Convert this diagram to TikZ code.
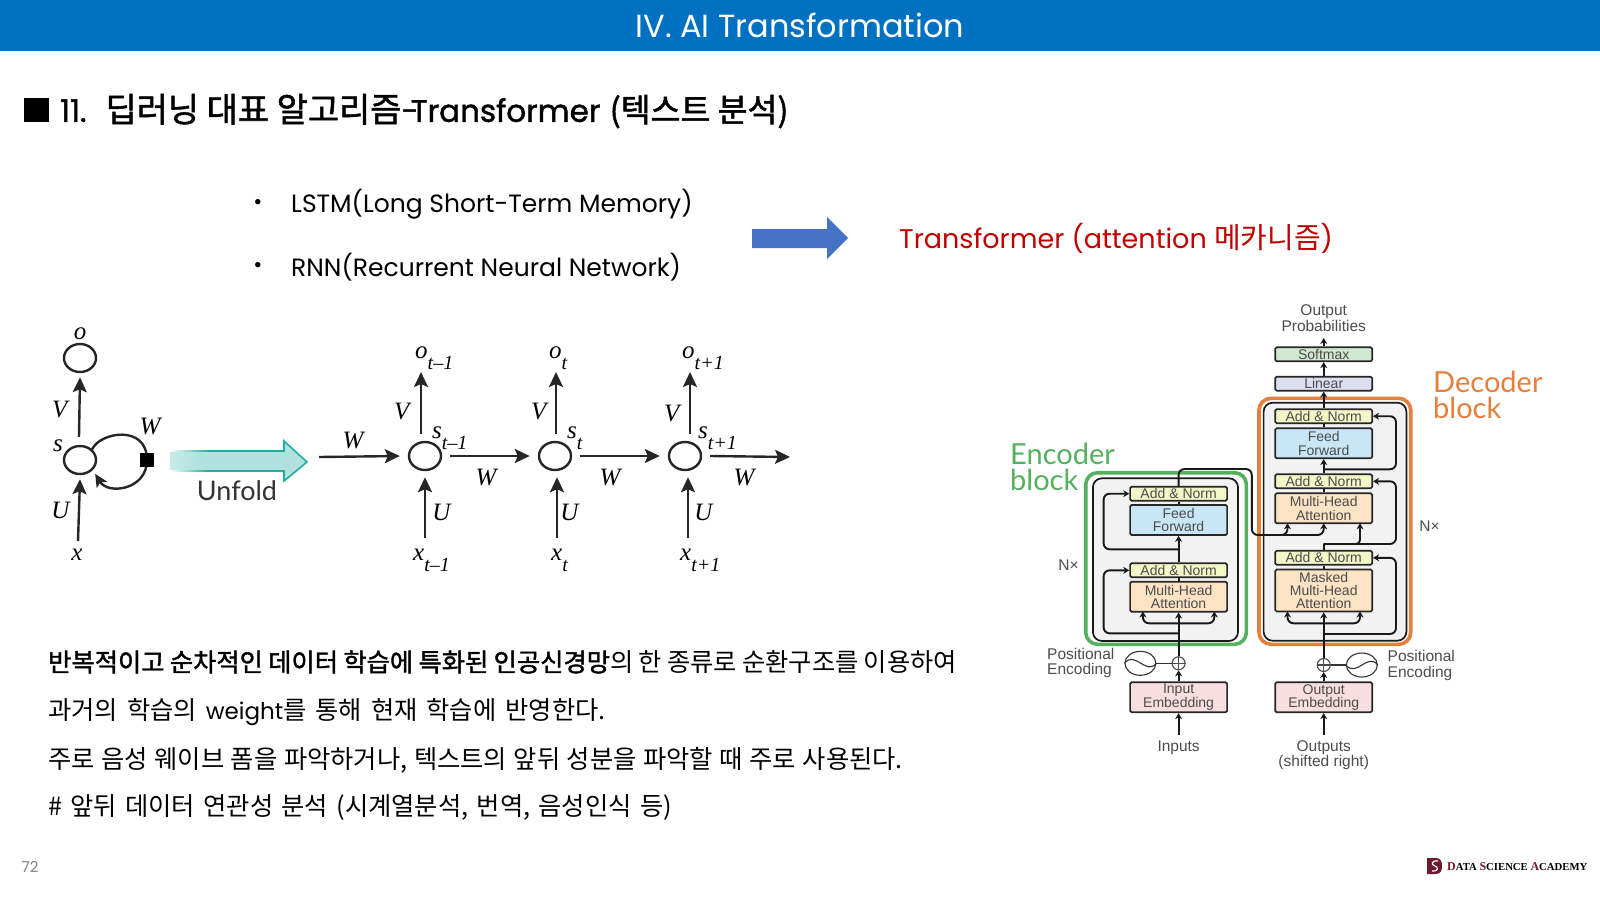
\documentclass[tikz,border=0pt]{standalone}
\usepackage{fontspec}
\usepackage{tikz}
\usetikzlibrary{arrows.meta, shapes.geometric}
\setmainfont{Poppins}
\newfontfamily\kr{Noto Sans CJK KR}
\newfontfamily\krb[FakeBold=1.6]{Noto Sans CJK KR}
\newfontfamily\popb[FakeBold=1.4]{Poppins}
\newfontfamily\helv{Liberation Sans}
\newfontfamily\tim{Liberation Serif}
\newfontfamily\lato{Lato}
\definecolor{headblue}{HTML}{0070C0}
\definecolor{arrowblue}{HTML}{4472C4}
\definecolor{redtext}{HTML}{C00000}
\definecolor{tealfill}{HTML}{B2E2DE}
\definecolor{tealline}{HTML}{1FAEA2}
\definecolor{orangeblock}{HTML}{E57F3C}
\definecolor{greenblock}{HTML}{55B060}
\definecolor{normfill}{HTML}{F3F7C8}
\definecolor{feedfill}{HTML}{C9E6F6}
\definecolor{attnfill}{HTML}{FBE3C4}
\definecolor{embedfill}{HTML}{F8DEDF}
\definecolor{softfill}{HTML}{D0E8D0}
\definecolor{linearfill}{HTML}{DCDFEF}
\definecolor{logored}{HTML}{6E1A2E}
\newcommand{\px}[1]{\fontsize{#1}{#1}\selectfont}
\newcommand{\rnnsub}[2]{\textit{#1}\raisebox{-11pt}{\px{20}\textit{#2}}}
\newcommand{\bodyline}[2]{\setlength{\spaceskip}{#1pt}#2}
\pgfdeclarehorizontalshading{unfoldfade}{100bp}{color(0bp)=(white); color(35bp)=(tealfill); color(100bp)=(tealfill)}

\begin{document}
\begin{tikzpicture}[
  x=1pt, y=-1pt,
  rnnstate/.style={ellipse, draw=black!85, line width=2.4pt, minimum width=32pt, minimum height=28pt, inner sep=0pt},
  rnnarrow/.style={line width=2.4pt, black!85, -{Stealth[length=15pt,width=14pt,inset=3pt]}},
  rnnlabel/.style={font=\tim\px{25}, inner sep=0pt},
  block/.style={draw=black!85, line width=1.7pt, rounded corners=1.5pt, inner sep=0pt, minimum width=97pt,
                align=center, text=black!70, font=\helv\fontsize{14}{13.4}\selectfont},
  flow/.style={line width=1.9pt, black!90, rounded corners=6pt, -{Stealth[length=6pt,width=7pt]}},
  flowplain/.style={line width=1.9pt, black!90, rounded corners=6pt},
  caption/.style={font=\helv\fontsize{15.5}{15.5}\selectfont, text=black!70, align=center, inner sep=0pt},
  stack/.style={draw=black!90, line width=1.7pt, fill=black!5, rounded corners=9pt},
  ring/.style={line width=3.6pt, rounded corners=12pt},
  wave/.style={ellipse, draw=black!80, line width=1.1pt, minimum width=31pt, minimum height=24pt, inner sep=0pt},
  plus/.style={circle, draw=black!70, line width=1.1pt, minimum size=13pt, inner sep=0pt},
  body/.style={font=\kr\px{25.3}, anchor=west, inner sep=0pt},
]

\useasboundingbox (0,0) rectangle (1600,900);

\fill[headblue] (0,0) rectangle (1600,51);
\node[text=white, font=\px{32}, inner sep=0pt] (header) at (800,25) {IV. AI Transformation};

\fill[black] (24,98) rectangle (49,122);
\node[anchor=west, font=\popb\px{31}, inner sep=0pt] (heading) at (60,111) {11.\hspace{8pt} {\krb\px{33.9}딥러닝 대표 알고리즘}-\hspace{-16pt} Transformer\hspace{1pt} {\krb\px{32.5}(텍스트 분석)}};

\node[font=\px{22}, inner sep=0pt] (dot1) at (258,204) {•};
\node[font=\px{22}, inner sep=0pt] (dot2) at (258,267) {•};
\node[anchor=west, font=\px{25}, inner sep=0pt] (lstm) at (291,204) {LSTM(Long Short-Term Memory)};
\node[anchor=west, font=\px{25}, inner sep=0pt] (rnn) at (291,267) {RNN(Recurrent Neural Network)};

\fill[arrowblue] (752,229) -- (827,229) -- (827,217) -- (848,238) -- (827,259) -- (827,248) -- (752,248) -- cycle;
\node[anchor=west, text=redtext, font=\px{27}, inner sep=0pt] (attention) at (899,238) {Transformer (attention {\kr\px{29}메카니즘})};

\node[rnnstate] (o0) at (80,358) {};
\node[rnnstate] (s0) at (80,460) {};
\coordinate (x0tail) at (78,541);
\draw[rnnarrow] ([xshift=-1pt,yshift=8pt]s0.north) -- ([yshift=-4pt]o0.south);
\draw[rnnarrow] (x0tail) -- ([yshift=-4pt]s0.south);
\draw[line width=2.4pt, black!85] (s0.north east) .. controls (100,432) and (147,424) .. (147,460);
\draw[line width=2.4pt, black!85, -{Stealth[length=13pt,width=12pt,inset=3pt]}] (147,460) .. controls (147,490) and (108,495) .. ([xshift=3pt,yshift=-3pt]s0.south east);
\fill[black] (140,453) rectangle (154,467);
\node[rnnlabel] (o0lab) at (80,334) {\textit{o}};
\node[rnnlabel] (v0lab) at (61,409) {\textit{V}};
\node[rnnlabel] (s0lab) at (58,446) {\textit{s}};
\node[rnnlabel] (w0lab) at (151,426) {\textit{W}};
\node[rnnlabel] (u0lab) at (61,510) {\textit{U}};
\node[rnnlabel] (x0lab) at (77,555) {\textit{x}};

\shade[shading=unfoldfade] (170,451) -- (284,451) -- (284,441) -- (307,462) -- (284,481) -- (284,471) -- (170,471) -- cycle;
\draw[tealline, line width=1.6pt, line join=miter] (208,451) -- (284,451) -- (284,441) -- (307,462) -- (284,481) -- (284,471) -- (208,471);
\shade[left color=white, right color=tealline] (170,450.2) rectangle (208,451.8);
\shade[left color=white, right color=tealline] (170,470.2) rectangle (208,471.8);
\node[font=\lato\px{27}, text=black!80, inner sep=0pt] (unfold) at (237,491) {Unfold};

\node[rnnstate] (s1) at (425,456) {};
\node[rnnstate] (s2) at (555,456) {};
\node[rnnstate] (s3) at (685,456) {};
\coordinate (w0tail) at (319,457);
\coordinate (w3tip) at (790,457);
\coordinate (o1tip) at (421,372);
\coordinate (o2tip) at (556,372);
\coordinate (o3tip) at (690,372);
\coordinate (x1tail) at (425,538);
\coordinate (x2tail) at (557,538);
\coordinate (x3tail) at (688,538);
\draw[rnnarrow] (w0tail) -- ([xshift=-8pt]s1.west);
\draw[rnnarrow] ([xshift=8pt]s1.east) -- ([xshift=-8pt]s2.west);
\draw[rnnarrow] ([xshift=8pt]s2.east) -- ([xshift=-8pt]s3.west);
\draw[rnnarrow] ([xshift=8pt]s3.east) -- (w3tip);
\draw[rnnarrow] ([xshift=-4pt,yshift=7pt]s1.north) -- (o1tip);
\draw[rnnarrow] ([xshift=1pt,yshift=7pt]s2.north) -- (o2tip);
\draw[rnnarrow] ([xshift=5pt,yshift=7pt]s3.north) -- (o3tip);
\draw[rnnarrow] (x1tail) -- ([yshift=-6pt]s1.south);
\draw[rnnarrow] (x2tail) -- ([xshift=2pt,yshift=-6pt]s2.south);
\draw[rnnarrow] (x3tail) -- ([xshift=3pt,yshift=-6pt]s3.south);
\node[rnnlabel] (w0top) at (354,440) {\textit{W}};
\node[rnnlabel] (w1lab) at (487,477) {\textit{W}};
\node[rnnlabel] (w2lab) at (611,477) {\textit{W}};
\node[rnnlabel] (w3lab) at (745,477) {\textit{W}};
\node[rnnlabel] (v1lab) at (403,411) {\textit{V}};
\node[rnnlabel] (v2lab) at (540,411) {\textit{V}};
\node[rnnlabel] (v3lab) at (673,413) {\textit{V}};
\node[rnnlabel] (u1lab) at (442,512) {\textit{U}};
\node[rnnlabel] (u2lab) at (570,512) {\textit{U}};
\node[rnnlabel] (u3lab) at (704,512) {\textit{U}};
\node[rnnlabel, anchor=west] (o1lab) at (415,358) {\rnnsub{o}{t–1}};
\node[rnnlabel, anchor=west] (o2lab) at (549,358) {\rnnsub{o}{t}};
\node[rnnlabel, anchor=west] (o3lab) at (682,358) {\rnnsub{o}{t+1}};
\node[rnnlabel, anchor=west] (s1lab) at (432,438) {\rnnsub{s}{t–1}};
\node[rnnlabel, anchor=west] (s2lab) at (567,438) {\rnnsub{s}{t}};
\node[rnnlabel, anchor=west] (s3lab) at (698,438) {\rnnsub{s}{t+1}};
\node[rnnlabel, anchor=west] (x1lab) at (413,560) {\rnnsub{x}{t–1}};
\node[rnnlabel, anchor=west] (x2lab) at (551,560) {\rnnsub{x}{t}};
\node[rnnlabel, anchor=west] (x3lab) at (680,560) {\rnnsub{x}{t+1}};

\node[body] (para1) at (48,662) {\bodyline{5.3}{{\krb 반복적이고 순차적인 데이터 학습에 특화된 인공신경망}의 한 종류로 순환구조를 이용하여}};
\node[body] (para2) at (48,712) {\bodyline{9.0}{과거의 학습의 {\rmfamily\px{23}weight}를 통해 현재 학습에 반영한다.}};
\node[body] (para3) at (48,760) {\bodyline{6.6}{주로 음성 웨이브 폼을 파악하거나, 텍스트의 앞뒤 성분을 파악할 때 주로 사용된다.}};
\node[body] (para4) at (48,808) {\bodyline{8.3}{\# 앞뒤 데이터 연관성 분석 (시계열분석, 번역, 음성인식 등)}};

\node[text=black!50, font=\px{15}, inner sep=0pt] (pagenum) at (30,867) {72};
\fill[logored] (1427,858) -- (1436,858) .. controls (1441,858) and (1442,862) .. (1442,866) .. controls (1442,870) and (1441,874) .. (1436,874) -- (1427,874) -- cycle;
\draw[white, line width=1.2pt] (1438,861) .. controls (1431,860) and (1431,865) .. (1435,866) .. controls (1439,867) and (1438,872) .. (1432,871);
\node[anchor=west, font=\tim\bfseries\px{10.7}, inner sep=0pt] (logotext) at (1447,867) {\textcolor{logored}{\px{12}D}ATA \textcolor{logored}{\px{12}S}CIENCE \textcolor{logored}{\px{12}A}CADEMY};

\draw[ring, draw=greenblock] (1085.7,472.7) rectangle (1246.4,644.3);
\draw[ring, draw=orangeblock] (1259,398.3) rectangle (1410.7,644.3);
\draw[stack] (1092.9,478.3) rectangle (1238,641);
\draw[stack] (1263.6,402.7) rectangle (1406.4,640.7);

\node[font=\lato\px{29}, text=greenblock, align=left, anchor=west, inner sep=0pt] (enclab) at (1010,467) {Encoder\\[-3pt]block};
\node[font=\lato\px{29}, text=orangeblock, align=left, anchor=west, inner sep=0pt] (declab) at (1433,395) {Decoder\\[-3pt]block};

\node[block, fill=softfill, minimum height=14pt] (softmax) at (1323.7,354.3) {Softmax};
\node[block, fill=linearfill, minimum height=14pt] (linear) at (1323.7,383.7) {Linear};
\node[block, fill=normfill, minimum height=14pt] (dnorm3) at (1323.7,416.2) {Add \& Norm};
\node[block, fill=feedfill, minimum height=30pt] (dfeed) at (1323.7,443.3) {Feed\\Forward};
\node[block, fill=normfill, minimum height=14pt] (dnorm2) at (1323.7,481.3) {Add \& Norm};
\node[block, fill=attnfill, minimum height=30pt] (dattn) at (1323.7,508.3) {Multi-Head\\Attention};
\node[block, fill=normfill, minimum height=14pt] (dnorm1) at (1323.7,557.8) {Add \& Norm};
\node[block, fill=attnfill, minimum height=42pt] (dmask) at (1323.7,590.5) {Masked\\Multi-Head\\Attention};
\node[block, fill=embedfill, minimum height=30pt] (dembed) at (1323.7,697.3) {Output\\Embedding};

\node[block, fill=normfill, minimum height=14pt] (enorm2) at (1178.6,493.7) {Add \& Norm};
\node[block, fill=feedfill, minimum height=30pt] (efeed) at (1178.6,520) {Feed\\Forward};
\node[block, fill=normfill, minimum height=14pt] (enorm1) at (1178.6,570.3) {Add \& Norm};
\node[block, fill=attnfill, minimum height=30pt] (eattn) at (1178.6,596.7) {Multi-Head\\Attention};
\node[block, fill=embedfill, minimum height=30pt] (eembed) at (1178.6,697.3) {Input\\Embedding};

\node[plus] (eplus) at (1178.6,663.3) {};
\node[plus] (dplus) at (1323.7,665) {};
\node[wave] (ewave) at (1140.4,663.3) {};
\node[wave] (dwave) at (1361.8,665) {};
\draw[black!70, line width=1.1pt] (eplus.north) -- (eplus.south);
\draw[black!70, line width=1.1pt] (eplus.west) -- (eplus.east);
\draw[black!70, line width=1.1pt] (dplus.north) -- (dplus.south);
\draw[black!70, line width=1.1pt] (dplus.west) -- (dplus.east);
\draw[black!80, line width=1.1pt] (ewave.west) .. controls (1135,650) and (1146,676) .. (ewave.east);
\draw[black!80, line width=1.1pt] (dwave.west) .. controls (1357,678) and (1367,652) .. (dwave.east);
\draw[black!80, line width=1.1pt] (ewave.east) -- (eplus.west);
\draw[black!80, line width=1.1pt] (dwave.west) -- (dplus.east);

\coordinate (inputsend) at (1178.6,735);
\coordinate (outputsend) at (1323.7,735);
\coordinate (probend) at (1323.7,338);
\coordinate (eskip1) at (1178.6,633.3);
\coordinate (eskip2) at (1178.6,549.3);
\coordinate (ebranch) at (1178.6,623.3);
\coordinate (dskip1) at (1323.7,634);
\coordinate (dbranch) at (1323.7,623.3);
\coordinate (dskip2) at (1323.7,544);
\coordinate (dskip3) at (1323.7,469.3);
\coordinate (ecorner) at (1178.6,469);
\coordinate (ecross) at (1251.8,535);
\coordinate (ecross2) at (1266,535);

\draw[flow] (softmax.north) -- (probend);
\draw[flow] (linear.north) -- (softmax.south);
\draw[flow] (dnorm3.north) -- (linear.south);
\draw[flowplain] (dfeed.north) -- (dnorm3.south);
\draw[flow] (dnorm2.north) -- (dfeed.south);
\draw[flowplain] (dattn.north) -- (dnorm2.south);
\draw[flow] (dplus.north) -- (dmask.south);
\draw[flowplain] (dmask.north) -- (dnorm1.south);
\draw[flow] (dembed.north) -- (dplus.south);
\draw[flow] (outputsend) -- (dembed.south);
\draw[flow] (dskip3) -| (1396,416.2) -- (dnorm3.east);
\draw[flow] (dskip2) -| (1396,481.3) -- (dnorm2.east);
\draw[flow] (dskip1) -| (1396,557.8) -- (dnorm1.east);
\draw[flow] (dbranch) -| (1287.5,611.5);
\draw[flow] (dbranch) -| (1360,611.5);
\draw[flowplain] (dnorm1.north) -- (dskip2);
\draw[flow, rounded corners=4pt] (dskip2) -- (1360,544) -- (1360,523.3);
\draw[flow] (enorm2.north) -- (ecorner) -| (ecross) -| (1287.5,523.3);
\draw[flow] (ecross2) -| (1323.7,523.3);

\draw[flow] (eplus.north) -- (eattn.south);
\draw[flowplain] (eattn.north) -- (enorm1.south);
\draw[flow] (enorm1.north) -- (efeed.south);
\draw[flowplain] (efeed.north) -- (enorm2.south);
\draw[flow] (eembed.north) -- (eplus.south);
\draw[flow] (inputsend) -- (eembed.south);
\draw[flow] (eskip1) -| (1103.6,570.3) -- (enorm1.west);
\draw[flow] (eskip2) -| (1103.6,493.7) -- (enorm2.west);
\draw[flow] (ebranch) -| (1142.9,611.5);
\draw[flow] (ebranch) -| (1214.3,611.5);

\node[caption] (probs) at (1323.7,318) {Output\\Probabilities};
\node[caption] (inputs) at (1178.6,747.7) {Inputs};
\node[caption] (outputs) at (1323.7,755) {Outputs\\(shifted right)};
\node[caption, align=left, anchor=west] (epos) at (1047,663) {Positional\\Encoding};
\node[caption, align=left, anchor=west] (dpos) at (1387.5,665.5) {Positional\\Encoding};
\node[caption] (enx) at (1068.6,565) {N×};
\node[caption] (dnx) at (1429.6,526) {N×};

\end{tikzpicture}
\end{document}
